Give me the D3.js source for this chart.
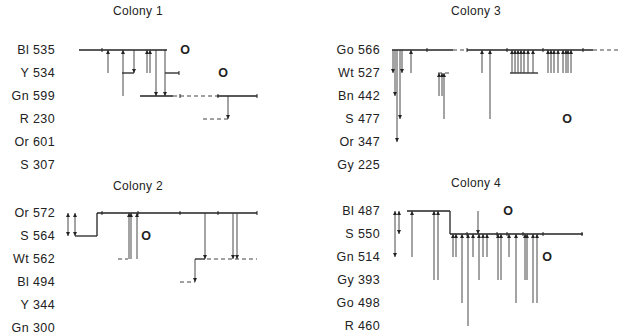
<!DOCTYPE html>
<html>
<head>
<meta charset="utf-8">
<script src="https://cdn.jsdelivr.net/npm/d3@7"></script>
<style>
body { margin: 0; background: #fff; }
text { font-family: "Liberation Sans", Arial, sans-serif; fill: #222; }
</style>
</head>
<body>
<script>
const width = 619;
const height = 334;

// time runs in days along each panel, rows are the bees (label = colour + id)
const colony1Rows = ["Bl 535", "Y 534", "Gn 599", "R 230", "Or 601", "S 307"];
const colony1Solid = [[0, 5.5, 49.5], [1, 27, 33], [1, 48.5, 55.5], [2, 36, 52.5], [2, 74.5, 94.5]];
const colony1Dashed = [[2, 52.5, 74.5], [3, 67.5, 80]];
const colony1Steps = [];
const colony1Arrows = [[20, 1, 0], [27.5, 2, 0], [33, 0, 1], [39.5, 1, 0], [41, 1, 0], [44, 0, 2], [48.5, 0, 2], [80, 2, 3]];
const colony1Both = [];
const colony1Ticks = [[0, 17], [1, 55.5], [2, 56], [2, 75], [2, 94.5]];
const colony1Marks = [[0, 58.5], [1, 77.5]];

const colony2Rows = ["Or 572", "S 564", "Wt 562", "Bl 494", "Y 344", "Gn 300"];
const colony2Solid = [[1, 3.5, 14.5], [0, 14.5, 94.5], [2, 63.5, 68.5]];
const colony2Dashed = [[2, 25, 30], [2, 69.5, 94.5], [3, 56, 63.5]];
const colony2Steps = [[14.5, 1, 0]];
const colony2Arrows = [[30.5, 2, 0], [31.5, 2, 0], [34.5, 2, 0], [68.5, 0, 2], [63.5, 2, 3], [82.5, 0, 2], [84.5, 0, 2]];
const colony2Both = [[0, 0, 1], [3.5, 0, 1]];
const colony2Ticks = [[0, 17], [0, 35], [0, 56], [0, 75], [0, 94.5]];
const colony2Marks = [[1, 39]];

const colony3Rows = ["Go 566", "Wt 527", "Bn 442", "S 477", "Or 347", "Gy 225"];
const colony3Solid = [[0, 1, 31.5], [0, 38.5, 101.5], [1, 60, 74]];
const colony3Dashed = [[0, 31.5, 38.5], [0, 101.5, 114.5], [1, 24, 30]];
const colony3Steps = [];
const colony3Arrows = [
  [1.5, 0, 1], [2.5, 0, 2], [3.5, 0, 4], [5, 0, 3], [6, 0, 1], [10.5, 1, 0],
  [24.5, 2, 1], [26, 2, 1], [27, 3, 1], [46, 1, 0], [50, 3, 0],
  [61, 1, 0], [62.5, 1, 0], [64, 1, 0], [65.5, 1, 0], [67, 1, 0], [69, 1, 0], [71.5, 1, 0],
  [79, 1, 0], [80.5, 1, 0], [82, 1, 0], [84, 1, 0], [86.5, 1, 0], [88, 1, 0], [89, 1, 0], [90.5, 1, 0]
];
const colony3Both = [];
const colony3Ticks = [[0, 18.5], [0, 38.5], [0, 58.5], [0, 76.5], [0, 96.5]];
const colony3Marks = [[3, 88.5]];

const colony4Rows = ["Bl 487", "S 550", "Gn 514", "Gy 393", "Go 498", "R 460"];
const colony4Solid = [[0, 8.5, 30], [1, 30, 96.5]];
const colony4Dashed = [];
const colony4Steps = [[30, 0, 1]];
const colony4Arrows = [
  [11, 2, 0], [22, 3, 0], [24, 3, 0], [44, 0, 1],
  [31.5, 2, 1], [33, 2, 1], [36, 4, 1], [39, 5, 1], [41.5, 2, 1], [44.5, 3, 1], [46.5, 2, 1], [48.5, 2, 1],
  [54, 3, 1], [55.5, 3, 1], [59.5, 2, 1], [63, 4, 1], [67.5, 3, 1], [68.5, 3, 1], [71.5, 4, 1], [73.5, 4, 1]
];
const colony4Both = [[2.5, 0, 2], [4.5, 0, 1]];
const colony4Ticks = [[1, 38.5], [1, 53.5], [1, 58.5], [1, 66.5], [1, 76.5], [1, 96]];
const colony4Marks = [[0, 59], [2, 78.5]];

const svg = d3.select("body").append("svg")
    .attr("width", width)
    .attr("height", height);

svg.append("defs").append("marker")
    .attr("id", "head")
    .attr("viewBox", "0 0 6 6")
    .attr("refX", 6).attr("refY", 3)
    .attr("markerWidth", 4).attr("markerHeight", 4)
    .attr("markerUnits", "userSpaceOnUse")
    .attr("orient", "auto-start-reverse")
    .append("path")
    .attr("d", "M0,0L6,3L0,6Z")
    .attr("fill", "#222");

const leftX = d3.scaleLinear().domain([0, 95]).range([68, 258]);
const rightX = d3.scaleLinear().domain([0, 115]).range([390, 620]);

const panels = [
    {title: "Colony 1", rows: colony1Rows, solid: colony1Solid, dashed: colony1Dashed, steps: colony1Steps,
     arrows: colony1Arrows, both: colony1Both, ticks: colony1Ticks, marks: colony1Marks,
     x: leftX, labelX: 55, top: 50, titleX: 138, titleY: 15},
    {title: "Colony 2", rows: colony2Rows, solid: colony2Solid, dashed: colony2Dashed, steps: colony2Steps,
     arrows: colony2Arrows, both: colony2Both, ticks: colony2Ticks, marks: colony2Marks,
     x: leftX, labelX: 55, top: 213, titleX: 138, titleY: 190},
    {title: "Colony 3", rows: colony3Rows, solid: colony3Solid, dashed: colony3Dashed, steps: colony3Steps,
     arrows: colony3Arrows, both: colony3Both, ticks: colony3Ticks, marks: colony3Marks,
     x: rightX, labelX: 380, top: 50, titleX: 476, titleY: 15},
    {title: "Colony 4", rows: colony4Rows, solid: colony4Solid, dashed: colony4Dashed, steps: colony4Steps,
     arrows: colony4Arrows, both: colony4Both, ticks: colony4Ticks, marks: colony4Marks,
     x: rightX, labelX: 380, top: 211, titleX: 476, titleY: 187}
];

panels.forEach(p => {
    const x = p.x;
    const y = d3.scaleLinear().domain([0, 5]).range([p.top, p.top + 115]);
    const g = svg.append("g");

    g.append("text")
        .attr("x", p.titleX).attr("y", p.titleY)
        .attr("text-anchor", "middle")
        .style("font-size", "12px")
        .style("letter-spacing", "0.3px")
        .text(p.title);

    g.selectAll(".label").data(p.rows).enter().append("text")
        .attr("x", p.labelX).attr("y", (d, i) => y(i))
        .attr("dy", "0.35em")
        .attr("text-anchor", "end")
        .style("font-size", "12.5px")
        .style("letter-spacing", "0.4px")
        .text(d => d);

    g.selectAll(".solid").data(p.solid).enter().append("line")
        .attr("x1", d => x(d[1])).attr("x2", d => x(d[2]))
        .attr("y1", d => y(d[0])).attr("y2", d => y(d[0]))
        .attr("stroke", "#222").attr("stroke-width", 1.3);

    g.selectAll(".dashed").data(p.dashed).enter().append("line")
        .attr("x1", d => x(d[1])).attr("x2", d => x(d[2]))
        .attr("y1", d => y(d[0])).attr("y2", d => y(d[0]))
        .attr("stroke", "#444").attr("stroke-width", 1)
        .attr("stroke-dasharray", "4,3");

    g.selectAll(".step").data(p.steps).enter().append("line")
        .attr("x1", d => x(d[0])).attr("x2", d => x(d[0]))
        .attr("y1", d => y(d[1])).attr("y2", d => y(d[2]))
        .attr("stroke", "#222").attr("stroke-width", 1.3);

    g.selectAll(".arrow").data(p.arrows).enter().append("line")
        .attr("x1", d => x(d[0])).attr("x2", d => x(d[0]))
        .attr("y1", d => y(d[1])).attr("y2", d => y(d[2]))
        .attr("stroke", "#333").attr("stroke-width", 0.9)
        .attr("marker-end", "url(#head)");

    g.selectAll(".both").data(p.both).enter().append("line")
        .attr("x1", d => x(d[0])).attr("x2", d => x(d[0]))
        .attr("y1", d => y(d[1])).attr("y2", d => y(d[2]))
        .attr("stroke", "#333").attr("stroke-width", 0.9)
        .attr("marker-start", "url(#head)")
        .attr("marker-end", "url(#head)");

    g.selectAll(".tick").data(p.ticks).enter().append("line")
        .attr("x1", d => x(d[1])).attr("x2", d => x(d[1]))
        .attr("y1", d => y(d[0]) - 2).attr("y2", d => y(d[0]) + 2)
        .attr("stroke", "#222").attr("stroke-width", 1);

    g.selectAll(".mark").data(p.marks).enter().append("text")
        .attr("x", d => x(d[1])).attr("y", d => y(d[0]))
        .attr("dy", "0.35em")
        .attr("text-anchor", "middle")
        .style("font-size", "12.5px")
        .style("font-weight", "bold")
        .text("O");
});
</script>
</body>
</html>
